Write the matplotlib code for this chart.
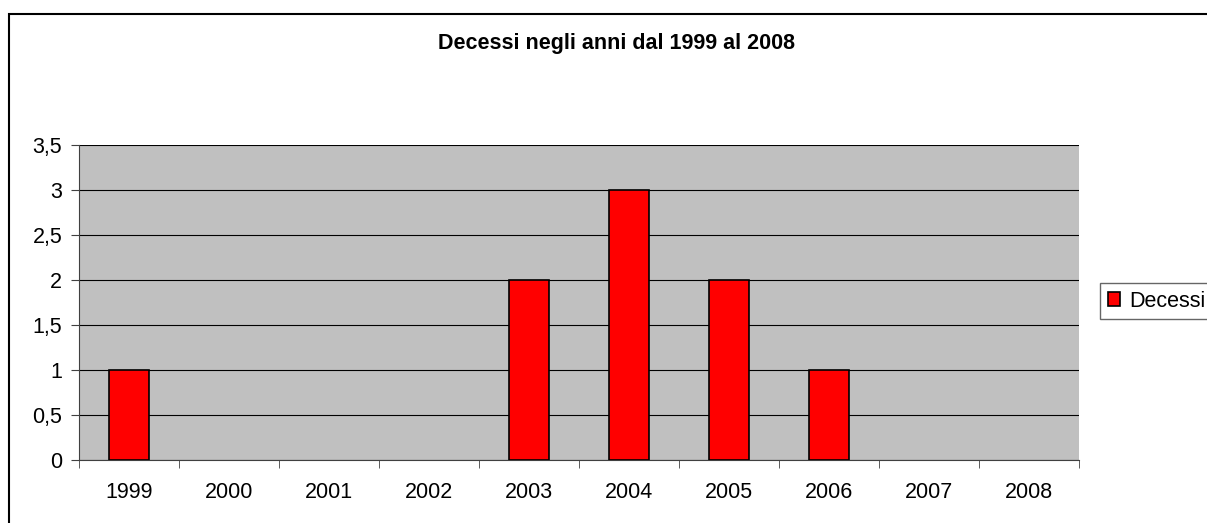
import matplotlib.pyplot as plt
import matplotlib.patches as mpatches
import numpy as np

plt.rcParams['font.family'] = ['Liberation Sans', 'DejaVu Sans']

# data
years = ["1999", "2000", "2001", "2002", "2003", "2004", "2005", "2006", "2007", "2008"]
deaths = [1, 0, 0, 0, 2, 3, 2, 1, 0, 0]
y_ticks = [0, 0.5, 1, 1.5, 2, 2.5, 3, 3.5]
y_labels = ["0", "0,5", "1", "1,5", "2", "2,5", "3", "3,5"]

W, H = 1207, 523
fig = plt.figure(figsize=(W / 100, H / 100), dpi=100)

# outer chart border (runs off the right and bottom edges)
border = mpatches.Rectangle((9 / W, -0.5), 1.5, 1.5 - 14 / H, transform=fig.transFigure,
                            fill=False, edgecolor="black", linewidth=1.5)
fig.patches.append(border)

# plot area
ax = fig.add_axes([79 / W, (H - 460) / H, 1000 / W, 315 / H])
ax.set_facecolor("#c0c0c0")

x = np.arange(len(years))
bars = ax.bar(x, deaths, width=0.4, color="#ff0000", edgecolor="black",
              linewidth=1.2, label="Decessi", zorder=3)
for b, v in zip(bars, deaths):
    if v == 0:
        b.set_visible(False)

ax.set_xlim(-0.5, len(years) - 0.5)
ax.set_ylim(0, 3.5)

ax.set_yticks(y_ticks)
ax.set_yticklabels(y_labels, fontsize=15.5)
ax.yaxis.grid(True, color="black", linewidth=0.8, zorder=1)
ax.set_axisbelow(True)

# category labels centred, ticks on boundaries
ax.set_xticks(x)
ax.set_xticklabels(years, fontsize=15.5)
ax.tick_params(axis="x", length=0, pad=16)
ax.set_xticks(np.arange(-0.5, len(years)), minor=True)
ax.tick_params(axis="x", which="minor", length=6, direction="out", color="#404040")
ax.tick_params(axis="y", length=6, direction="out", color="#404040", pad=6)

for s in ["top", "right"]:
    ax.spines[s].set_visible(False)
ax.spines["left"].set_color("#404040")
ax.spines["bottom"].set_color("#404040")

fig.text(616 / W, 1 - 44 / H, "Decessi negli anni dal 1999 al 2008",
         ha="center", va="center", fontsize=15.5, fontweight="bold")

leg = fig.legend(handles=[bars], labels=["Decessi"], loc="upper left",
                 bbox_to_anchor=(1100 / W, 1 - 283 / H), fontsize=15.5,
                 frameon=True, fancybox=False, edgecolor="#404040",
                 handlelength=0.6, handleheight=0.6, handletextpad=0.4,
                 borderpad=0.35, borderaxespad=0)
leg.get_frame().set_linewidth(1.0)

fig.savefig("out.png", dpi=100)
